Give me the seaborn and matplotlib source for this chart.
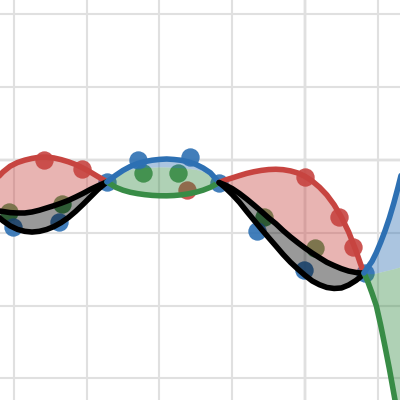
import seaborn as sns
import matplotlib.pyplot as plt

RED = "#c74440"
BLUE = "#2d70b3"
GREEN = "#388c46"
BLACK = "#000000"

# piece 1: left edge to first knot
seg1_x = [-4.25, -4.15, -4.05, -3.95, -3.85, -3.75, -3.65, -3.55, -3.45, -3.35,
          -3.25, -3.15, -3.05, -2.95, -2.85, -2.72]
seg1_red = [-0.27, -0.165, -0.085, -0.035, -0.002, 0.022, 0.038, 0.040, 0.028, 0.005,
            -0.025, -0.062, -0.11, -0.165, -0.225, -0.30]
seg1_black_top = [-0.694, -0.707, -0.723, -0.728, -0.728, -0.714, -0.690, -0.659, -0.628, -0.593,
                  -0.555, -0.508, -0.459, -0.405, -0.357, -0.30]
seg1_black_low = [-0.75, -0.835, -0.905, -0.953, -0.980, -0.99, -0.98, -0.955, -0.915, -0.86,
                  -0.79, -0.705, -0.61, -0.51, -0.41, -0.30]

# piece 2: first knot to second knot
seg2_x = [-2.72, -2.6, -2.5, -2.4, -2.3, -2.2, -2.1, -2.0, -1.9, -1.8,
          -1.7, -1.6, -1.5, -1.4, -1.3, -1.18]
seg2_blue = [-0.30, -0.210, -0.143, -0.089, -0.048, -0.022, -0.003, 0.008, 0.014, 0.007,
             -0.004, -0.027, -0.060, -0.110, -0.176, -0.31]
seg2_mid = [-0.30, -0.224, -0.170, -0.130, -0.110, -0.104, -0.099, -0.095, -0.096, -0.103,
            -0.107, -0.116, -0.129, -0.158, -0.203, -0.31]
seg2_green = [-0.30, -0.375, -0.415, -0.443, -0.462, -0.476, -0.486, -0.491, -0.492, -0.488,
              -0.479, -0.464, -0.443, -0.414, -0.375, -0.31]

# piece 3: second knot to third knot
seg3_x = [-1.18, -1.1, -1.0, -0.9, -0.8, -0.7, -0.6, -0.5, -0.4, -0.3, -0.2,
          -0.1, 0.0, 0.1, 0.2, 0.3, 0.4, 0.5, 0.6, 0.7, 0.76, 0.81]
seg3_red = [-0.31, -0.277, -0.246, -0.214, -0.184, -0.161, -0.143, -0.131, -0.127, -0.133, -0.150,
            -0.178, -0.225, -0.29, -0.375, -0.48, -0.615, -0.785, -0.99, -1.245, -1.42, -1.552]
seg3_black_top = [-0.31, -0.342, -0.393, -0.460, -0.537, -0.620, -0.706, -0.795, -0.876, -0.970, -1.056,
                  -1.135, -1.210, -1.279, -1.343, -1.405, -1.451, -1.493, -1.526, -1.545, -1.552, -1.552]
seg3_black_low = [-0.31, -0.376, -0.473, -0.581, -0.707, -0.828, -0.949, -1.066, -1.181, -1.298, -1.404,
                  -1.497, -1.584, -1.662, -1.714, -1.751, -1.765, -1.758, -1.717, -1.655, -1.607, -1.552]

# piece 4: third knot to right edge
seg4_x = [0.81, 0.86, 0.92, 0.98, 1.04, 1.1, 1.16, 1.22, 1.28, 1.34, 1.4]
seg4_blue = [-1.552, -1.478, -1.393, -1.272, -1.129, -0.971, -0.794, -0.592, -0.368, -0.129, 0.110]
seg4_mid = [-1.552, -1.56, -1.563, -1.553, -1.537, -1.522, -1.508, -1.493, -1.475, -1.453, -1.43]
seg4_green = [-1.552, -1.664, -1.827, -2.004, -2.271, -2.567, -2.874, -3.206, -3.541, -3.883, -4.217]

# sample points
red_pts_x = [-3.585, -3.063, -1.621, 0.0, 0.467, 0.659]
red_pts_y = [0.0, -0.124, -0.412, -0.234, -0.783, -1.195]
green_pts_x = [-4.066, -3.338, -2.225, -1.745, -0.563, 0.137]
green_pts_y = [-0.714, -0.604, -0.179, -0.179, -0.783, -1.209]
blue_pts_x = [-4.011, -3.379, -2.72, -2.294, -1.580, -1.181, -0.659, -0.014, 0.824]
blue_pts_y = [-0.920, -0.852, -0.302, 0.0, 0.041, -0.316, -0.975, -1.511, -1.552]

sns.set_style("white")
fig = plt.figure(figsize=(4, 4), dpi=100)
ax = fig.add_axes([0, 0, 1, 1])

# grid + axes
ax.set_xticks(range(-4, 2))
ax.set_yticks(range(-3, 3))
ax.grid(True, color="#e0e0e0", lw=1.5, zorder=0)
ax.set_axisbelow(True)
ax.tick_params(length=0, labelbottom=False, labelleft=False)
for s in ax.spines.values():
    s.set_visible(False)
ax.axhline(0, color="#999999", lw=1.6, zorder=0.5)
ax.axvline(0, color="#999999", lw=1.6, zorder=0.5)

# points sit under the shaded areas
for px, py, c in [(red_pts_x, red_pts_y, RED), (green_pts_x, green_pts_y, GREEN),
                  (blue_pts_x, blue_pts_y, BLUE)]:
    sns.scatterplot(x=px, y=py, color=c, s=175, linewidth=0, alpha=0.9, zorder=1, ax=ax)

# shaded areas
ax.fill_between(seg1_x, seg1_red, seg1_black_top, color=RED, alpha=0.4, lw=0, zorder=2)
ax.fill_between(seg1_x, seg1_black_top, seg1_black_low, color=BLACK, alpha=0.4, lw=0, zorder=2)
ax.fill_between(seg2_x, seg2_blue, seg2_mid, color=BLUE, alpha=0.4, lw=0, zorder=2)
ax.fill_between(seg2_x, seg2_mid, seg2_green, color=GREEN, alpha=0.4, lw=0, zorder=2)
ax.fill_between(seg3_x, seg3_red, seg3_black_top, color=RED, alpha=0.4, lw=0, zorder=2)
ax.fill_between(seg3_x, seg3_black_top, seg3_black_low, color=BLACK, alpha=0.4, lw=0, zorder=2)
ax.fill_between(seg4_x, seg4_blue, seg4_mid, color=BLUE, alpha=0.4, lw=0, zorder=2)
ax.fill_between(seg4_x, seg4_mid, seg4_green, color=GREEN, alpha=0.4, lw=0, zorder=2)

# curves
curves = [
    (seg1_x, seg1_red, RED), (seg1_x, seg1_black_top, BLACK), (seg1_x, seg1_black_low, BLACK),
    (seg2_x, seg2_green, GREEN), (seg2_x, seg2_blue, BLUE),
    (seg3_x, seg3_red, RED), (seg3_x, seg3_black_top, BLACK), (seg3_x, seg3_black_low, BLACK),
    (seg4_x, seg4_green, GREEN), (seg4_x, seg4_blue, BLUE),
]
for cx, cy, c in curves:
    sns.lineplot(x=cx, y=cy, color=c, lw=4.0, sort=False, estimator=None, zorder=3,
                 solid_capstyle="round", solid_joinstyle="round", ax=ax)

ax.set_xlim(-4.19, 1.305)
ax.set_ylim(-3.297, 2.198)

fig.savefig("out.png", dpi=100)
